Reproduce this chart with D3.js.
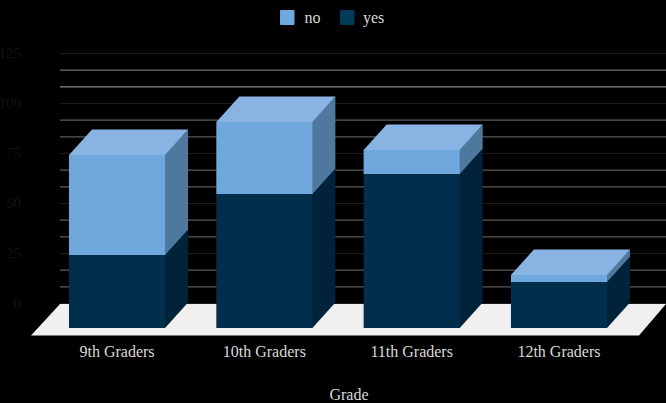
<!DOCTYPE html>
<html>
<head>
<meta charset="utf-8">
<script src="https://cdnjs.cloudflare.com/ajax/libs/d3/7.8.5/d3.min.js"></script>
<style>
    html, body { margin: 0; padding: 0; background: #000; overflow: hidden; }
    text { font-family: "Liberation Serif", serif; }
</style>
</head>
<body>
<div id="svgContainer"></div>
<script>
const grades = ["9th Graders", "10th Graders", "11th Graders", "12th Graders"];
const yes = [36.5, 67, 77, 23];
const no = [50, 36, 12, 3.5];
const seriesNames = ["no", "yes"];
const majorTicks = [0, 25, 50, 75, 100, 125];
const minorTicks = [8.33, 16.67, 33.33, 41.67, 58.33, 66.67, 83.33, 91.67, 108.33, 116.67];

const width = 666;
const height = 403;

// offset of the back of each bar from its front face
const depthX = 23;
const depthY = -25.5;

const colors = {
    no: {front: "#6fa8dc", top: "#88b3e2", side: "#4f789f"},
    yes: {front: "#012e4a", top: "#0a3a58", side: "#00233a"}
};

const svg = d3.select("#svgContainer").append("svg")
    .attr("width", width)
    .attr("height", height)
    .style("display", "block");

// front plane of the bars
const x = d3.scaleBand().domain(grades).range([69, 607]).paddingInner(0.348);
const y = d3.scaleLinear().domain([0, 125]).range([328, 78]);

// back wall, where the grid and the value axis sit
const wall = svg.append("g").attr("transform", "translate(0, -25)");

const minorGrid = d3.axisLeft(y).tickValues(minorTicks).tickSize(-606).tickFormat("");
wall.append("g")
    .attr("transform", "translate(60, 0)")
    .call(minorGrid)
    .call(g => g.select(".domain").remove())
    .selectAll("line")
    // the upper lines look brighter in the original
    .attr("stroke", d => d === 116.67 ? "#808080" : d === 108.33 ? "#3a3a3a" : d > 100 ? "#707070" : "#5a5a5a")
    .attr("stroke-width", 1.2);

wall.selectAll(".tick line")
    .filter(d => d === 116.67)
    .attr("stroke", "#707070");
wall.selectAll(".tick line")
    .filter(d => d === 108.33)
    .attr("stroke", "#8c8c8c");

const majorGrid = d3.axisLeft(y).tickValues(majorTicks).tickSize(-606).tickFormat("");
wall.append("g")
    .attr("transform", "translate(60, 0)")
    .call(majorGrid)
    .call(g => g.select(".domain").remove())
    .selectAll("line")
    .attr("stroke", "#1c1c1c")
    .attr("stroke-width", 1);

const valueAxis = d3.axisLeft(y).tickValues(majorTicks).tickSize(0).tickPadding(0);
wall.append("g")
    .attr("transform", "translate(21, 0)")
    .call(valueAxis)
    .call(g => g.select(".domain").remove())
    .selectAll("text")
    .attr("fill", "#131313")
    .attr("font-size", 15)
    .style("font-family", "'Liberation Serif', serif");

// floor
const floorBack = y(0) - 24;
const floorFront = y(0) + 7.5;
svg.append("polygon")
    .attr("fill", "#f0f0f0")
    .attr("points", [[60, floorBack], [666, floorBack], [639, floorFront], [31, floorFront]].join(" "));

function drawBlock(g, left, right, top, bottom, c, showTop) {
    // side face, tucked 1px behind the front so no floor shows through the seam
    g.append("polygon")
        .attr("fill", c.side)
        .attr("points", [[right - 1, top], [right + depthX, top + depthY], [right + depthX, bottom + depthY], [right, bottom], [right - 1, bottom]].join(" "));
    if (showTop) {
        g.append("polygon")
            .attr("fill", c.top)
            .attr("points", [[left, top], [left + depthX, top + depthY], [right + depthX, top + depthY], [right, top]].join(" "));
    }
    g.append("rect")
        .attr("x", left)
        .attr("y", top)
        .attr("width", right - left)
        .attr("height", bottom - top)
        .attr("fill", c.front);
}

grades.forEach((grade, i) => {
    const g = svg.append("g");
    const left = x(grade);
    const right = left + x.bandwidth();
    drawBlock(g, left, right, y(yes[i]), y(0), colors.yes, false);
    drawBlock(g, left, right, y(yes[i] + no[i]), y(yes[i]), colors.no, true);
});

// category labels
const categoryAxis = d3.axisBottom(x).tickSize(0).tickPadding(0);
svg.append("g")
    .attr("transform", "translate(0, 346)")
    .call(categoryAxis)
    .call(g => g.select(".domain").remove())
    .selectAll("text")
    .attr("fill", "#d9d9d9")
    .attr("font-size", 16)
    .style("font-family", "'Liberation Serif', serif");

svg.append("text")
    .attr("x", 349)
    .attr("y", 400)
    .attr("text-anchor", "middle")
    .attr("fill", "#d9d9d9")
    .attr("font-size", 16)
    .text("Grade");

// legend
const legendX = d3.scaleOrdinal().domain(seriesNames).range([280, 340]);
const legend = svg.append("g")
    .selectAll("g")
    .data(seriesNames)
    .join("g")
    .attr("transform", d => `translate(${legendX(d)}, 10)`);

legend.append("rect")
    .attr("width", 14.5)
    .attr("height", 15)
    .attr("rx", 1)
    .attr("fill", d => d === "no" ? colors.no.front : "#023a5a");

legend.append("text")
    .attr("x", d => d === "no" ? 24.5 : 23)
    .attr("y", 12.5)
    .attr("fill", "#d9d9d9")
    .attr("font-size", 16)
    .text(d => d);
</script>
</body>
</html>
